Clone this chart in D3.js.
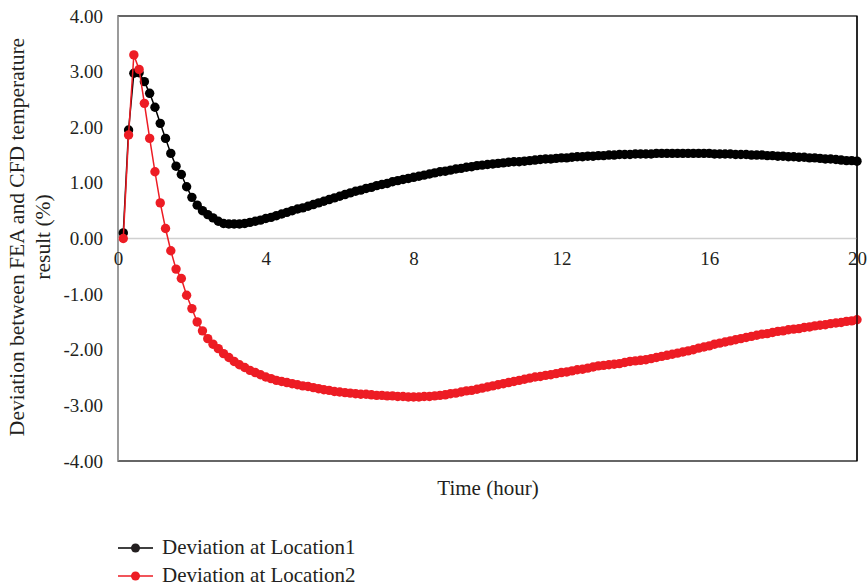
<!DOCTYPE html>
<html>
<head>
<meta charset="utf-8">
<script src="https://cdn.jsdelivr.net/npm/d3@7"></script>
<style>
  html, body { margin: 0; padding: 0; background: #fff; }
  svg { display: block; }
  text { font-family: "Liberation Serif", "Times New Roman", serif; fill: #231f20; }
</style>
</head>
<body>
<svg id="chart" width="868" height="588"></svg>
<script>
// ---- data ----
const timeHours = [
  0.143, 0.286, 0.429, 0.571, 0.714, 0.857, 1,
  1.143, 1.286, 1.429, 1.571, 1.714, 1.857, 2,
  2.143, 2.286, 2.429, 2.571, 2.714, 2.857, 3,
  3.143, 3.286, 3.429, 3.571, 3.714, 3.857, 4,
  4.143, 4.286, 4.429, 4.571, 4.714, 4.857, 5,
  5.143, 5.286, 5.429, 5.571, 5.714, 5.857, 6,
  6.143, 6.286, 6.429, 6.571, 6.714, 6.857, 7,
  7.143, 7.286, 7.429, 7.571, 7.714, 7.857, 8,
  8.143, 8.286, 8.429, 8.571, 8.714, 8.857, 9,
  9.143, 9.286, 9.429, 9.571, 9.714, 9.857, 10,
  10.143, 10.286, 10.429, 10.571, 10.714, 10.857, 11,
  11.143, 11.286, 11.429, 11.571, 11.714, 11.857, 12,
  12.143, 12.286, 12.429, 12.571, 12.714, 12.857, 13,
  13.143, 13.286, 13.429, 13.571, 13.714, 13.857, 14,
  14.143, 14.286, 14.429, 14.571, 14.714, 14.857, 15,
  15.143, 15.286, 15.429, 15.571, 15.714, 15.857, 16,
  16.143, 16.286, 16.429, 16.571, 16.714, 16.857, 17,
  17.143, 17.286, 17.429, 17.571, 17.714, 17.857, 18,
  18.143, 18.286, 18.429, 18.571, 18.714, 18.857, 19,
  19.143, 19.286, 19.429, 19.571, 19.714, 19.857, 20
];

const location1 = [
  0.10, 1.95, 2.97, 2.98, 2.82, 2.61, 2.36,
  2.07, 1.80, 1.53, 1.30, 1.15, 0.93, 0.74,
  0.60, 0.50, 0.43, 0.37, 0.31, 0.27, 0.26,
  0.26, 0.26, 0.27, 0.29, 0.31, 0.33, 0.36,
  0.38, 0.41, 0.44, 0.47, 0.50, 0.53, 0.55,
  0.58, 0.61, 0.64, 0.67, 0.70, 0.73, 0.76,
  0.79, 0.82, 0.85, 0.87, 0.90, 0.92, 0.95,
  0.97, 0.99, 1.02, 1.04, 1.06, 1.08, 1.10,
  1.12, 1.14, 1.16, 1.18, 1.20, 1.21, 1.23,
  1.25, 1.26, 1.28, 1.29, 1.31, 1.32, 1.33,
  1.34, 1.35, 1.36, 1.37, 1.38, 1.38, 1.39,
  1.40, 1.41, 1.42, 1.43, 1.43, 1.44, 1.45,
  1.45, 1.46, 1.47, 1.47, 1.48, 1.48, 1.49,
  1.49, 1.50, 1.50, 1.51, 1.51, 1.51, 1.52,
  1.52, 1.52, 1.52, 1.53, 1.53, 1.53, 1.53,
  1.53, 1.53, 1.53, 1.53, 1.53, 1.53, 1.53,
  1.52, 1.52, 1.52, 1.52, 1.51, 1.51, 1.51,
  1.50, 1.50, 1.50, 1.49, 1.49, 1.48, 1.48,
  1.47, 1.47, 1.46, 1.46, 1.45, 1.45, 1.44,
  1.43, 1.43, 1.42, 1.41, 1.40, 1.40, 1.39
];

const location2 = [
  0.00, 1.86, 3.30, 3.04, 2.43, 1.80, 1.20,
  0.64, 0.18, -0.22, -0.55, -0.72, -1.02, -1.26,
  -1.50, -1.66, -1.80, -1.90, -1.98, -2.07, -2.14,
  -2.21, -2.27, -2.32, -2.37, -2.41, -2.45, -2.49,
  -2.52, -2.55, -2.57, -2.59, -2.61, -2.63, -2.65,
  -2.66, -2.68, -2.70, -2.72, -2.73, -2.75, -2.76,
  -2.77, -2.78, -2.79, -2.80, -2.80, -2.81, -2.82,
  -2.82, -2.83, -2.83, -2.84, -2.84, -2.85, -2.85,
  -2.85, -2.84, -2.84, -2.83, -2.82, -2.81, -2.79,
  -2.78, -2.76, -2.74, -2.73, -2.71, -2.69, -2.67,
  -2.65, -2.63, -2.61, -2.59, -2.57, -2.55, -2.53,
  -2.51, -2.49, -2.48, -2.46, -2.45, -2.43, -2.41,
  -2.40, -2.38, -2.36, -2.35, -2.33, -2.31, -2.29,
  -2.28, -2.27, -2.26, -2.25, -2.23, -2.21, -2.20,
  -2.19, -2.18, -2.16, -2.14, -2.12, -2.10, -2.08,
  -2.06, -2.04, -2.02, -2.00, -1.97, -1.95, -1.93,
  -1.90, -1.88, -1.86, -1.84, -1.82, -1.80, -1.78,
  -1.76, -1.74, -1.72, -1.71, -1.69, -1.67, -1.66,
  -1.64, -1.63, -1.62, -1.60, -1.59, -1.57, -1.56,
  -1.55, -1.53, -1.52, -1.51, -1.49, -1.48, -1.46
];

const seriesNames = ["Deviation at Location1", "Deviation at Location2"];
const seriesColors = ["#000000", "#ed1c24"];
const xTicks = [0, 4, 8, 12, 16, 20];
const yTicks = [-4, -3, -2, -1, 0, 1, 2, 3, 4];
const xTitle = "Time (hour)";
const yTitleLines = ["Deviation between FEA and CFD temperature", "result (%)"];

// ---- layout ----
const svg = d3.select("#chart");
const plot = { left: 118, right: 857, top: 16, bottom: 461 };
const x = d3.scaleLinear().domain([0, 20]).range([plot.left, plot.right]);
const y = d3.scaleLinear().domain([-4, 4]).range([plot.bottom, plot.top]);
const FS = 19;
const fmtY = d => d3.format(".2f")(d).replace("\u2212", "-");

// frame
svg.append("rect")
  .attr("x", plot.left).attr("y", plot.top)
  .attr("width", plot.right - plot.left).attr("height", plot.bottom - plot.top)
  .attr("fill", "none").attr("stroke", "#000").attr("stroke-width", 1.2);

// left value axis line (grey)
svg.append("line")
  .attr("x1", plot.left).attr("x2", plot.left)
  .attr("y1", plot.top).attr("y2", plot.bottom)
  .attr("stroke", "#bfbfbf").attr("stroke-width", 1.2);

// y axis tick labels
const yAxis = d3.axisLeft(y).tickValues(yTicks).tickSize(0).tickPadding(15)
  .tickFormat(fmtY);
const gy = svg.append("g").attr("transform", `translate(${plot.left},0)`).call(yAxis);
gy.select(".domain").remove();
gy.selectAll("text").style("font-family", "Liberation Serif, serif")
  .style("font-size", FS + "px").attr("fill", "#231f20");

// zero line (horizontal category axis)
svg.append("line")
  .attr("x1", plot.left).attr("x2", plot.right)
  .attr("y1", y(0)).attr("y2", y(0))
  .attr("stroke", "#d0d0d0").attr("stroke-width", 1.5);

// x axis tick labels at zero line
const xAxis = d3.axisBottom(x).tickValues(xTicks).tickSize(0).tickPadding(13)
  .tickFormat(d3.format("d"));
const gx = svg.append("g").attr("transform", `translate(0,${y(0)})`).call(xAxis);
gx.select(".domain").remove();
gx.selectAll("text").style("font-family", "Liberation Serif, serif")
  .style("font-size", FS + "px").attr("fill", "#231f20");

// series
const seriesData = [location1, location2];
const line = d3.line().x(d => x(d[0])).y(d => y(d[1]));
seriesData.forEach((vals, i) => {
  const pts = timeHours.map((t, j) => [t, vals[j]]);
  const g = svg.append("g");
  g.append("path").datum(pts)
    .attr("d", line).attr("fill", "none")
    .attr("stroke", seriesColors[i]).attr("stroke-width", 1.5);
  g.selectAll("circle").data(pts).enter().append("circle")
    .attr("cx", d => x(d[0])).attr("cy", d => y(d[1]))
    .attr("r", 4.7).attr("fill", seriesColors[i]);
});

// redraw right border on top
svg.append("line")
  .attr("x1", plot.right).attr("x2", plot.right)
  .attr("y1", plot.top).attr("y2", plot.bottom)
  .attr("stroke", "#000").attr("stroke-width", 1.2);

// axis titles
svg.append("text")
  .attr("x", 488).attr("y", 495)
  .attr("text-anchor", "middle").style("font-size", "21px").text(xTitle);

const yt = svg.append("text")
  .attr("transform", "translate(24,237) rotate(-90)")
  .attr("text-anchor", "middle").style("font-size", "21.5px");
yt.append("tspan").attr("x", 0).attr("dy", 0).text(yTitleLines[0]);
yt.append("tspan").attr("x", 0).attr("dy", 26).text(yTitleLines[1]);

// legend
const legY = [548, 576];
seriesNames.forEach((name, i) => {
  const g = svg.append("g").attr("transform", `translate(0,${legY[i]})`);
  g.append("line").attr("x1", 118).attr("x2", 153).attr("y1", 0).attr("y2", 0)
    .attr("stroke", seriesColors[i]).attr("stroke-width", 1.5);
  g.append("circle").attr("cx", 135.5).attr("cy", 0).attr("r", 4.5)
    .attr("fill", seriesColors[i] === "#000000" ? "#231f20" : seriesColors[i]);
  g.append("text").attr("x", 162).attr("y", 6)
    .style("font-size", "21px").text(name);
});
</script>
</body>
</html>
